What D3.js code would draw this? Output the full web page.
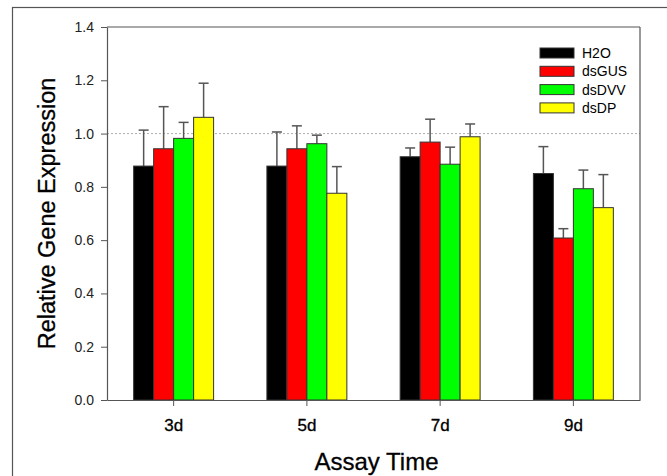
<!DOCTYPE html>
<html>
<head>
<meta charset="utf-8">
<script src="https://cdn.jsdelivr.net/npm/d3@7"></script>
<style>
  body { margin: 0; background: #fff; }
  svg { display: block; font-family: "Liberation Sans", Arial, sans-serif; }
</style>
</head>
<body>
<svg id="chart" width="667" height="476"></svg>
<script>
// chart values
const days = ["3d", "5d", "7d", "9d"];
const treatments = ["H2O", "dsGUS", "dsDVV", "dsDP"];
const colors = ["#000000", "#ff0000", "#00ff00", "#ffff00"];
// mean per treatment, one row per day
const means = [
  [0.878, 0.943, 0.982, 1.061],
  [0.878, 0.943, 0.962, 0.776],
  [0.913, 0.968, 0.885, 0.988],
  [0.850, 0.608, 0.793, 0.722]
];
// top of error bar
const errTops = [
  [1.013, 1.101, 1.042, 1.189],
  [1.006, 1.029, 0.994, 0.876],
  [0.946, 1.054, 0.949, 1.036],
  [0.951, 0.643, 0.863, 0.846]
];
const yTicks = [0, 0.2, 0.4, 0.6, 0.8, 1.0, 1.2, 1.4];

const margin = { top: 27, right: 27, bottom: 76, left: 107 };
const width = 667 - margin.left - margin.right;
const height = 476 - margin.top - margin.bottom;

const svg = d3.select("#chart");

// outer frame
svg.append("rect")
    .attr("x", 12.5).attr("y", 7.5)
    .attr("width", 700).attr("height", 500)
    .attr("fill", "none").attr("stroke", "#555").attr("stroke-width", 1.2);

const g = svg.append("g").attr("transform", `translate(${margin.left},${margin.top})`);

const x = d3.scaleBand().domain(days).range([0, width]).paddingInner(0.4).paddingOuter(0.2);
const xs = d3.scaleBand().domain(treatments).range([0, x.bandwidth()]);
const y = d3.scaleLinear().domain([0, 1.4]).range([height, 0]);

// reference line at 1.0
g.append("line")
    .attr("x1", 0).attr("x2", width)
    .attr("y1", y(1)).attr("y2", y(1))
    .attr("stroke", "#999").attr("stroke-width", 0.8)
    .attr("stroke-dasharray", "2,2");

// bars + error bars
const groups = g.selectAll(".day")
  .data(days)
  .join("g")
    .attr("transform", d => `translate(${x(d)},0)`);

groups.selectAll("g.err")
  .data((d, i) => treatments.map((t, j) => ({ t, j, v: means[i][j], e: errTops[i][j] })))
  .join("g")
    .attr("class", "err")
  .each(function (d) {
    const cx = xs(d.t) + xs.bandwidth() / 2;
    const s = d3.select(this);
    s.append("line")
        .attr("x1", cx).attr("x2", cx)
        .attr("y1", y(d.v)).attr("y2", y(d.e))
        .attr("stroke", "#555").attr("stroke-width", 1.5);
    s.append("line")
        .attr("x1", cx - 5).attr("x2", cx + 5)
        .attr("y1", y(d.e)).attr("y2", y(d.e))
        .attr("stroke", "#555").attr("stroke-width", 1.5);
  });

groups.selectAll("rect")
  .data((d, i) => treatments.map((t, j) => ({ t, j, v: means[i][j] })))
  .join("rect")
    .attr("x", d => xs(d.t))
    .attr("y", d => y(d.v))
    .attr("width", xs.bandwidth())
    .attr("height", d => height - y(d.v))
    .attr("fill", d => colors[d.j])
    .attr("stroke", "#333").attr("stroke-width", 1);

// frame around plot
g.append("line").attr("x1", 0).attr("x2", width).attr("y1", 0).attr("y2", 0)
    .attr("stroke", "#555").attr("stroke-width", 1.2);
g.append("line").attr("x1", width).attr("x2", width).attr("y1", 0).attr("y2", height)
    .attr("stroke", "#555").attr("stroke-width", 1.2);

// axes
const yAxis = g.append("g")
    .call(d3.axisLeft(y).tickValues(yTicks).tickFormat(d3.format(".1f")).tickSize(6).tickSizeOuter(0));
yAxis.selectAll("text").attr("font-size", 14).attr("fill", "#222").attr("dx", "-4");

const xAxis = g.append("g")
    .attr("transform", `translate(0,${height})`)
    .call(d3.axisBottom(x).tickSize(6).tickSizeOuter(0));
xAxis.selectAll("text").attr("font-size", 17).attr("fill", "#000").attr("y", 31).attr("dy", 0)
    .attr("stroke", "#000").attr("stroke-width", 0.3);

[yAxis, xAxis].forEach(a => {
  a.select(".domain").attr("stroke", "#555").attr("stroke-width", 1.2);
  a.selectAll(".tick line").attr("stroke", "#555");
});

// axis titles
svg.append("text")
    .attr("transform", `translate(55,${margin.top + height / 2}) rotate(-90)`)
    .attr("text-anchor", "middle")
    .attr("font-size", 23.5)
    .attr("stroke", "#000").attr("stroke-width", 0.3)
    .text("Relative Gene Expression");

svg.append("text")
    .attr("x", margin.left + width / 2 + 3)
    .attr("y", 470)
    .attr("text-anchor", "middle")
    .attr("font-size", 24)
    .attr("stroke", "#000").attr("stroke-width", 0.3)
    .text("Assay Time");

// legend
const legend = svg.append("g").attr("transform", "translate(540,48)");
treatments.forEach((t, i) => {
  const row = legend.append("g").attr("transform", `translate(0,${i * 18.3})`);
  row.append("rect")
      .attr("width", 34).attr("height", 10)
      .attr("fill", colors[i]).attr("stroke", "#333").attr("stroke-width", 1);
  row.append("text")
      .attr("x", 42).attr("y", 10)
      .attr("font-size", 14)
      .text(t);
});
</script>
</body>
</html>
